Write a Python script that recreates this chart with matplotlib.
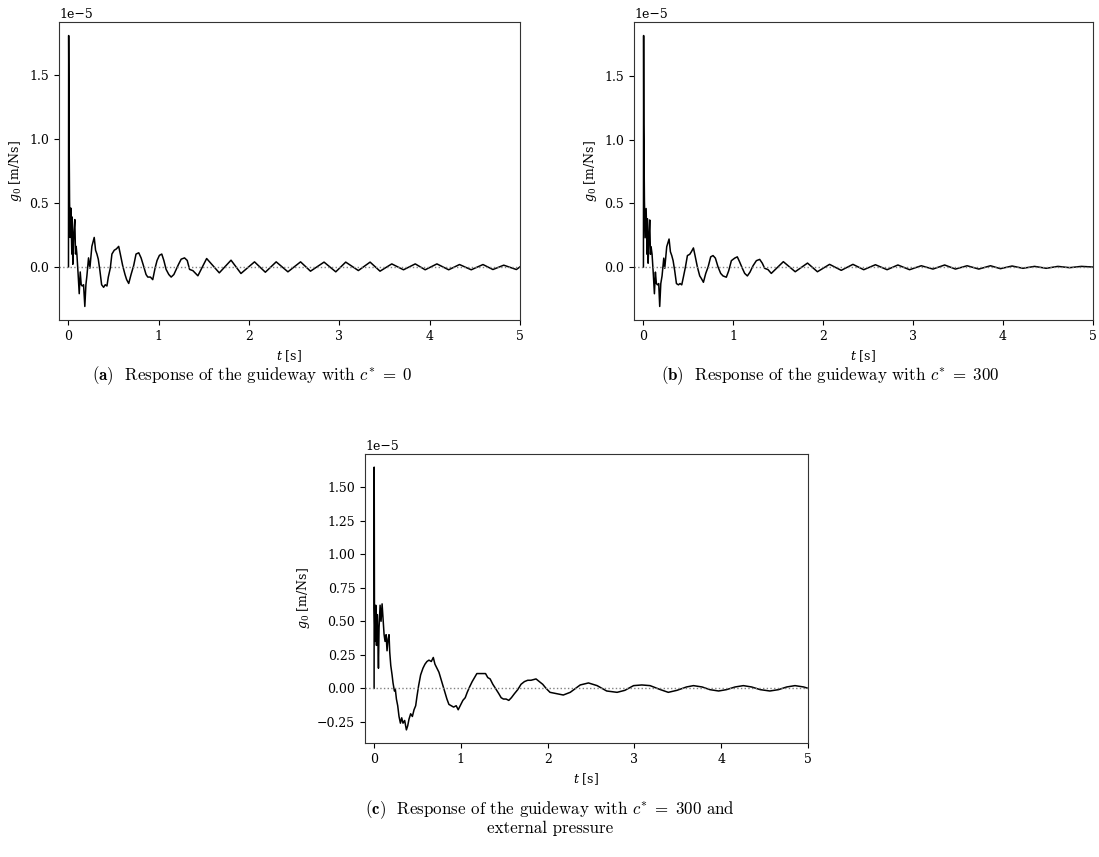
import numpy as np
import matplotlib
matplotlib.use("Agg")
from matplotlib import pyplot as plt

plt.rcParams['font.family'] = 'serif'
plt.rcParams['font.serif'] = ['DejaVu Serif']
plt.rcParams['mathtext.fontset'] = 'dejavuserif'
plt.rcParams['font.size'] = 9

# values in units of 1e-5 m/Ns
t_a = [0.000, 0.002, 0.006, 0.012, 0.019, 0.026, 0.037, 0.041, 0.048, 0.059,
       0.070, 0.078, 0.085, 0.093, 0.107, 0.119, 0.130, 0.141, 0.152, 0.167,
       0.181, 0.193, 0.204, 0.222, 0.237, 0.259, 0.285, 0.300, 0.315, 0.330,
       0.348, 0.367, 0.389, 0.407, 0.426, 0.441, 0.463, 0.481, 0.507, 0.530,
       0.556, 0.574, 0.600, 0.626, 0.644, 0.667, 0.693, 0.722, 0.748, 0.778,
       0.804, 0.830, 0.859, 0.878, 0.907, 0.933, 0.959, 0.981, 1.007, 1.033,
       1.056, 1.081, 1.111, 1.137, 1.167, 1.193, 1.219, 1.248, 1.285, 1.315,
       1.341, 1.378, 1.433,
       1.53, 1.67, 1.80, 1.91, 2.06, 2.18, 2.30, 2.43, 2.57, 2.68,
       2.83, 2.96, 3.07, 3.21, 3.34, 3.45, 3.58, 3.71, 3.84, 3.95,
       4.08, 4.21, 4.33, 4.46, 4.59, 4.70, 4.82, 4.96, 5.0]
g_a = [0.00, 1.81, 1.12, 0.51, 0.23, 0.46, 0.10, 0.39, 0.02, 0.26,
       0.37, 0.10, 0.16, 0.10, -0.06, -0.21, -0.04, -0.14, -0.15, -0.14,
       -0.31, -0.14, -0.07, 0.07, -0.01, 0.16, 0.23, 0.13, 0.10, 0.06,
       -0.03, -0.14, -0.16, -0.14, -0.15, -0.08, -0.01, 0.10, 0.13, 0.14,
       0.16, 0.10, 0.01, -0.06, -0.10, -0.13, -0.06, 0.01, 0.10, 0.11,
       0.07, 0.01, -0.06, -0.08, -0.08, -0.10, -0.01, 0.05, 0.09, 0.10,
       0.05, -0.02, -0.06, -0.08, -0.06, -0.02, 0.02, 0.06, 0.07, 0.05,
       -0.02, -0.03, -0.07,
       0.065, -0.047, 0.052, -0.052, 0.039, -0.042, 0.039, -0.039, 0.039, -0.034,
       0.037, -0.039, 0.037, -0.029, 0.037, -0.034, 0.023, -0.023, 0.023, -0.023,
       0.023, -0.023, 0.018, -0.023, 0.018, -0.021, 0.013, -0.021, 0.0]

t_b = [0.000, 0.002, 0.004, 0.011, 0.019, 0.030, 0.041, 0.044, 0.052, 0.063,
       0.070, 0.078, 0.085, 0.096, 0.111, 0.122, 0.133, 0.144, 0.156, 0.170,
       0.181, 0.193, 0.207, 0.226, 0.237, 0.259, 0.285, 0.300, 0.315, 0.330,
       0.348, 0.367, 0.389, 0.407, 0.426, 0.444, 0.467, 0.489, 0.515, 0.533,
       0.556, 0.574, 0.600, 0.626, 0.644, 0.667, 0.693, 0.719, 0.748, 0.774,
       0.800, 0.830, 0.859, 0.885, 0.922, 0.948, 0.978, 1.015, 1.044, 1.070,
       1.100, 1.126, 1.156, 1.185, 1.219, 1.256, 1.293, 1.322, 1.348, 1.385,
       1.422,
       1.556, 1.688, 1.825, 1.935, 2.07, 2.20, 2.33, 2.45, 2.58, 2.71,
       2.83, 2.96, 3.09, 3.22, 3.35, 3.47, 3.60, 3.73, 3.86, 3.97,
       4.10, 4.22, 4.35, 4.48, 4.61, 4.74, 4.87, 5.0]
g_b = [0.00, 1.82, 1.12, 0.52, 0.23, 0.46, 0.10, 0.38, 0.03, 0.26,
       0.37, 0.10, 0.16, 0.10, -0.07, -0.21, -0.04, -0.13, -0.14, -0.13,
       -0.31, -0.13, -0.07, 0.07, -0.01, 0.16, 0.22, 0.12, 0.09, 0.05,
       -0.03, -0.13, -0.14, -0.13, -0.14, -0.08, 0.00, 0.09, 0.10, 0.12,
       0.15, 0.09, 0.00, -0.07, -0.09, -0.12, -0.05, 0.00, 0.08, 0.09,
       0.07, 0.00, -0.05, -0.07, -0.08, -0.03, 0.05, 0.07, 0.08, 0.04,
       -0.01, -0.05, -0.07, -0.04, 0.01, 0.05, 0.06, 0.03, -0.01, -0.02,
       -0.05,
       0.042, -0.037, 0.031, -0.037, 0.021, -0.026, 0.021, -0.021, 0.018, -0.021,
       0.016, -0.021, 0.010, -0.016, 0.016, -0.016, 0.010, -0.016, 0.010, -0.013,
       0.008, -0.010, 0.005, -0.010, 0.005, -0.005, 0.005, 0.0]

t_c = [0.000, 0.001, 0.004, 0.011, 0.019, 0.027, 0.038, 0.050, 0.057, 0.069,
       0.080, 0.092, 0.103, 0.115, 0.126, 0.138, 0.149, 0.161, 0.172, 0.180,
       0.192, 0.207, 0.218, 0.234, 0.245, 0.257, 0.272, 0.287, 0.303, 0.318,
       0.333, 0.352, 0.372, 0.387, 0.402, 0.421, 0.441, 0.460, 0.479, 0.494,
       0.513, 0.536, 0.563, 0.586, 0.609, 0.632, 0.659, 0.682, 0.701, 0.724,
       0.747, 0.770, 0.793, 0.816, 0.839, 0.862, 0.889, 0.916, 0.946, 0.969,
       0.992, 1.023, 1.050, 1.073, 1.100, 1.130, 1.157, 1.184, 1.215, 1.253,
       1.284, 1.310, 1.337, 1.368, 1.398, 1.437, 1.464, 1.490, 1.521, 1.552,
       1.582, 1.617, 1.655, 1.693, 1.732, 1.770, 1.808, 1.866, 1.904, 1.943,
       1.981, 2.027,
       2.18, 2.26, 2.375, 2.47, 2.57, 2.68, 2.80, 2.89, 2.99, 3.085,
       3.18, 3.30, 3.39, 3.49, 3.60, 3.68, 3.78, 3.87, 3.97, 4.06,
       4.16, 4.255, 4.35, 4.45, 4.56, 4.66, 4.755, 4.85, 4.95, 5.0]
g_c = [0.00, 1.65, 0.60, 0.35, 0.62, 0.32, 0.55, 0.15, 0.45, 0.62,
       0.50, 0.63, 0.52, 0.40, 0.35, 0.40, 0.28, 0.37, 0.40, 0.27,
       0.17, 0.10, 0.04, -0.02, -0.01, -0.08, -0.13, -0.21, -0.26, -0.22,
       -0.26, -0.24, -0.31, -0.28, -0.23, -0.19, -0.21, -0.16, -0.13, -0.06,
       0.02, 0.10, 0.15, 0.18, 0.20, 0.21, 0.20, 0.23, 0.18, 0.15,
       0.12, 0.07, 0.02, -0.03, -0.08, -0.12, -0.13, -0.14, -0.13, -0.16,
       -0.13, -0.09, -0.07, -0.03, 0.01, 0.05, 0.08, 0.11, 0.11, 0.11,
       0.11, 0.08, 0.07, 0.03, 0.00, -0.04, -0.07, -0.08, -0.08, -0.09,
       -0.07, -0.04, -0.01, 0.03, 0.05, 0.06, 0.06, 0.07, 0.05, 0.03,
       0.00, -0.03,
       -0.05, -0.03, 0.025, 0.04, 0.02, -0.02, -0.03, -0.015, 0.02, 0.025,
       0.02, -0.01, -0.03, -0.015, 0.01, 0.02, 0.01, -0.01, -0.02, -0.01,
       0.01, 0.02, 0.01, -0.01, -0.02, -0.01, 0.01, 0.02, 0.01, 0.0]

captions = [r"$\mathbf{(a)}$  Response of the guideway with $c^{*}\;=\;0$",
            r"$\mathbf{(b)}$  Response of the guideway with $c^{*}\;=\;300$",
            r"$\mathbf{(c)}$  Response of the guideway with $c^{*}\;=\;300$ and" + "\n" + "external pressure"]

fig = plt.figure(figsize=(10.99, 8.57), dpi=100)

boxes = [[59/1099, 1-320/857, 461/1099, 298/857],
         [634/1099, 1-320/857, 459/1099, 298/857],
         [365/1099, 1-743/857, 443/1099, 289/857]]
series = [(t_a, g_a), (t_b, g_b), (t_c, g_c)]

for box, (t, g) in zip(boxes, series):
    ax = fig.add_axes(box)
    ax.plot(t, np.array(g)*1e-5, color='black', lw=1.1)
    ax.axhline(0, color='gray', ls=':', lw=1.0)
    ax.set_xlim(-0.105, 5)
    ax.set_xlabel('$t$ [s]')
    ax.set_ylabel('$g_0$ [m/Ns]')
    for s in ax.spines.values():
        s.set_color('#333333')

capkw = dict(ha='center', va='center', family='cmr10', math_fontfamily='cm', fontsize=12.2)
fig.text(252/1099, 1-376/857, captions[0], **capkw)
fig.text(830/1099, 1-376/857, captions[1], **capkw)
fig.text(550/1099, 1-817/857, captions[2], linespacing=1.0, **capkw)

fig.savefig('out.png', dpi=100)
